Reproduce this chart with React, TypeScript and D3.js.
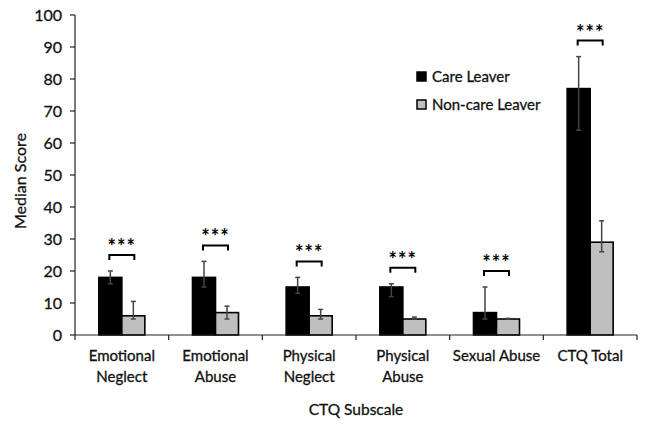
import React from "react";
import * as d3 from "d3";

const categories = [
  ["Emotional", "Neglect"],
  ["Emotional", "Abuse"],
  ["Physical", "Neglect"],
  ["Physical", "Abuse"],
  ["Sexual Abuse"],
  ["CTQ Total"],
];
const seriesNames = ["Care Leaver", "Non-care Leaver"];
const careValues = [18, 18, 15, 15, 7, 77];
const careLow = [16, 15, 13, 12, 5, 64];
const careHigh = [20, 23, 18, 16, 15, 87];
const nonCareValues = [6, 7, 6, 5, 5, 29];
const nonCareLow = [5, 5, 5, 5, 5, 26];
const nonCareHigh = [10.5, 9, 8, 5.6, 5.2, 35.7];
const yTicks = [0, 10, 20, 30, 40, 50, 60, 70, 80, 90, 100];
const sigLabels = ["***", "***", "***", "***", "***", "***"];

const W = 647, H = 428;
const left = 75, right = 637, top = 15, bottom = 335;
const FONT = "Lato, 'Open Sans', sans-serif";
const TXT = { fill: "#111", stroke: "#111", strokeWidth: 0.3 };

export default function App() {
  const x = d3.scaleBand<number>().domain(d3.range(categories.length)).range([left, right]).paddingInner(0).paddingOuter(0);
  const y = d3.scaleLinear().domain([0, 100]).range([bottom, top]);
  const bw = 23;
  const series = [
    { vals: careValues, lo: careLow, hi: careHigh, fill: "#000000", off: -bw },
    { vals: nonCareValues, lo: nonCareLow, hi: nonCareHigh, fill: "#bfbfbf", off: 0 },
  ];
  const cat = (i: number) => (x(i) as number) + x.bandwidth() / 2;
  return (
    <svg width={W} height={H} style={{ display: "block", position: "absolute", left: 0, top: 0, background: "#fff" }} fontFamily={FONT}>
      {/* y axis */}
      <line x1={left} x2={left} y1={y(100)} y2={y(0)} stroke="#222" strokeWidth={1.2} />
      {yTicks.map((t) => (
        <g key={t}>
          <line x1={left - 5} x2={left} y1={y(t)} y2={y(t)} stroke="#222" strokeWidth={1.2} />
          <text x={62} y={y(t)} dy="0.35em" textAnchor="end" fontSize={16} {...TXT}>{t}</text>
        </g>
      ))}
      <text transform={`translate(20,${(y(0) + y(100)) / 2 + 6}) rotate(-90)`} dy="0.35em" textAnchor="middle" fontSize={16} {...TXT}>Median Score</text>
      {/* bars */}
      {series.map((s, si) =>
        s.vals.map((v, i) => (
          <rect key={`${si}-${i}`} x={cat(i) + s.off} y={y(v)} width={bw} height={y(0) - y(v)} fill={s.fill} stroke="#000" strokeWidth={1.6} />
        ))
      )}
      {/* error bars */}
      {series.map((s, si) =>
        s.vals.map((v, i) => {
          const cx = cat(i) + s.off + bw / 2;
          return (
            <g key={`e${si}-${i}`} stroke="#444" strokeWidth={1.5}>
              <line x1={cx} x2={cx} y1={y(s.hi[i])} y2={y(s.lo[i])} />
              <line x1={cx - 2.5} x2={cx + 2.5} y1={y(s.hi[i])} y2={y(s.hi[i])} />
              <line x1={cx - 2.5} x2={cx + 2.5} y1={y(s.lo[i])} y2={y(s.lo[i])} />
            </g>
          );
        })
      )}
      {/* x axis */}
      <line x1={left} x2={right} y1={y(0)} y2={y(0)} stroke="#222" strokeWidth={1.2} />
      {d3.range(categories.length + 1).map((i) => {
        const xx = left + i * x.step();
        return <line key={i} x1={xx} x2={xx} y1={y(0)} y2={y(0) + 5} stroke="#222" strokeWidth={1.2} />;
      })}
      {categories.map((lines, i) => (
        <text key={i} x={cat(i)} y={361} textAnchor="middle" fontSize={15} {...TXT}>
          {lines.map((l, j) => (
            <tspan key={j} x={cat(i)} dy={j === 0 ? 0 : 21}>{l}</tspan>
          ))}
        </text>
      ))}
      <text x={(left + right) / 2} y={415} textAnchor="middle" fontSize={15.5} {...TXT}>CTQ Subscale</text>
      {/* significance brackets */}
      {sigLabels.map((lab, i) => {
        const top2 = y(Math.max(careHigh[i], nonCareHigh[i]) + 5);
        const x1 = cat(i) - bw / 2 - 1, x2 = cat(i) + bw / 2 + 1;
        return (
          <g key={`s${i}`}>
            <path d={`M${x1},${top2 + 5}V${top2}H${x2}V${top2 + 5}`} fill="none" stroke="#000" strokeWidth={2} />
            <text x={(x1 + x2) / 2} y={top2 - 1} textAnchor="middle" fontSize={20} fontWeight="bold" letterSpacing={1} fill="#000">{lab}</text>
          </g>
        );
      })}
      {/* legend */}
      {seriesNames.map((n, i) => (
        <g key={n} transform={`translate(417,${72 + i * 28})`}>
          <rect x={0} y={0} width={9} height={9} fill={series[i].fill} stroke="#000" strokeWidth={1.5} />
          <text x={15} y={4.5} dy="0.35em" fontSize={15} {...TXT}>{n}</text>
        </g>
      ))}
    </svg>
  );
}
